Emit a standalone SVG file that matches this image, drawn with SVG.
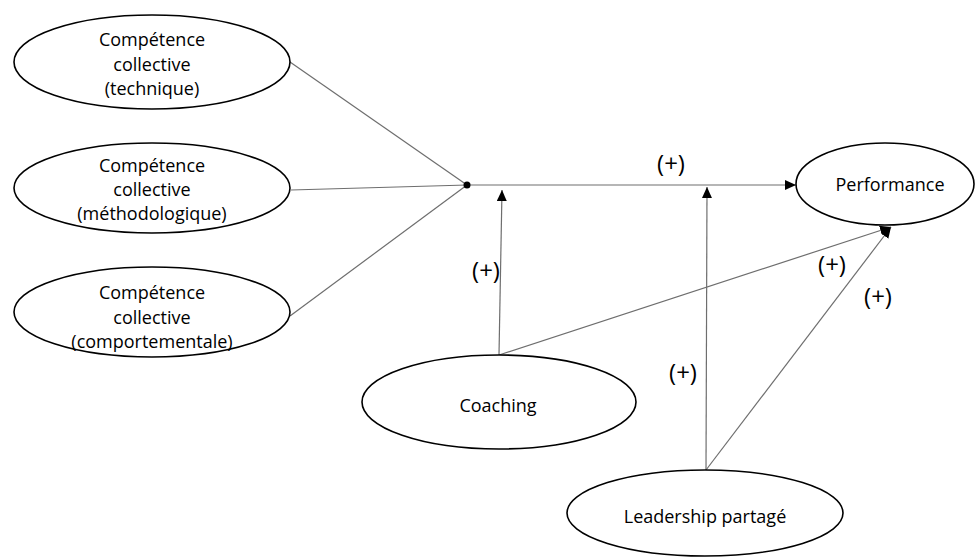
<svg xmlns="http://www.w3.org/2000/svg" width="975" height="560" viewBox="0 0 975 560">
<style>
.node ellipse{fill:#fff;stroke:#000;stroke-width:1.6}
.node text{font-family:"Open Sans","Liberation Sans",sans-serif;font-size:18px;fill:#000;text-anchor:middle}
.conn line{stroke:#6e6e6e;stroke-width:1.2;fill:none}
.lbl{font-family:"Open Sans","Liberation Sans",sans-serif;font-size:24px;fill:#000;text-anchor:middle}
</style>
<defs>
<marker id="ah" markerUnits="userSpaceOnUse" markerWidth="11" markerHeight="10" refX="11" refY="5" orient="auto" viewBox="0 0 11 10">
<path d="M0,0 L11,5 L0,10 z" fill="#000"/>
</marker>
</defs>
<rect width="975" height="560" fill="#fff"/>
<g id="connectors" class="conn">
<line x1="290" y1="62" x2="467" y2="185"/>
<line x1="291" y1="190" x2="467" y2="185"/>
<line x1="290" y1="316" x2="467" y2="185"/>
<line x1="467" y1="185" x2="796" y2="185" marker-end="url(#ah)"/>
<line x1="499" y1="355" x2="502" y2="190" marker-end="url(#ah)"/>
<line x1="706" y1="470" x2="707" y2="187" marker-end="url(#ah)"/>
<line x1="499" y1="355" x2="891" y2="227" marker-end="url(#ah)"/>
<line x1="706" y1="470" x2="891" y2="227" marker-end="url(#ah)"/>
<circle cx="467" cy="185" r="3.5" fill="#000"/>
</g>
<g id="n-technique" class="node">
<ellipse cx="152" cy="62" rx="138" ry="47"/>
<text x="152" y="46">Compétence</text>
<text x="152" y="71">collective</text>
<text x="152" y="95">(technique)</text>
</g>
<g id="n-methodologique" class="node">
<ellipse cx="152" cy="188" rx="138" ry="45"/>
<text x="152" y="172">Compétence</text>
<text x="152" y="196">collective</text>
<text x="152" y="220">(méthodologique)</text>
</g>
<g id="n-comportementale" class="node">
<ellipse cx="152" cy="312" rx="138" ry="45"/>
<text x="152" y="299">Compétence</text>
<text x="152" y="324">collective</text>
<text x="152" y="348">(comportementale)</text>
</g>
<g id="n-performance" class="node">
<ellipse cx="885" cy="184" rx="89" ry="41"/>
<text x="890" y="191">Performance</text>
</g>
<g id="n-coaching" class="node">
<ellipse cx="499" cy="402" rx="137" ry="47"/>
<text x="498" y="412">Coaching</text>
</g>
<g id="n-leadership" class="node">
<ellipse cx="705" cy="513" rx="138" ry="43"/>
<text x="705" y="523">Leadership partagé</text>
</g>
<g id="labels">
<text class="lbl" x="671" y="172">(+)</text>
<text class="lbl" x="486" y="279">(+)</text>
<text class="lbl" x="683" y="381">(+)</text>
<text class="lbl" x="832" y="273">(+)</text>
<text class="lbl" x="878" y="305">(+)</text>
</g>
</svg>
